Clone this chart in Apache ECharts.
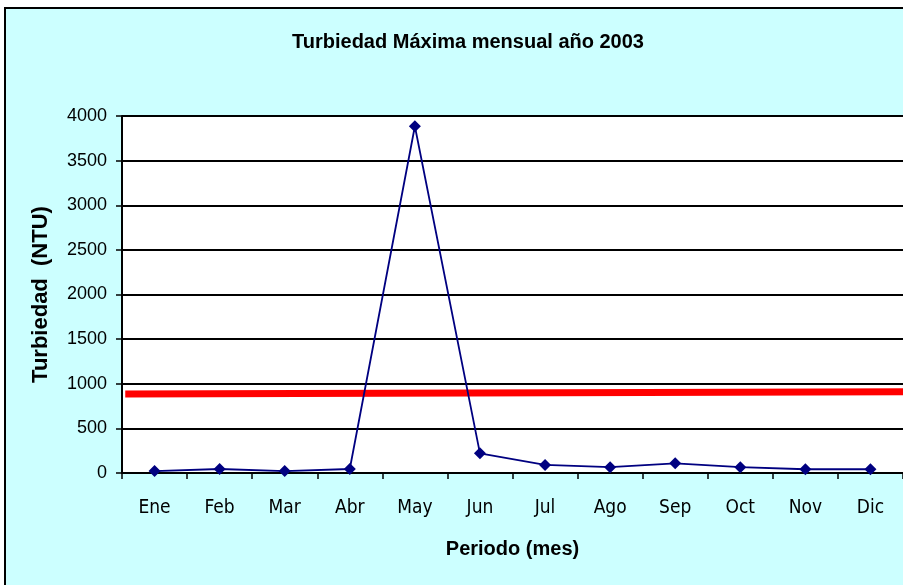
<!DOCTYPE html>
<html><head><meta charset="utf-8">
<script src="https://cdn.jsdelivr.net/npm/echarts@6/dist/echarts.min.js"></script>
<style>html,body{margin:0;padding:0;background:#fff}#c{width:903px;height:585px}</style>
</head><body><div id="c"></div>
<script>
const months = ['Ene','Feb','Mar','Abr','May','Jun','Jul','Ago','Sep','Oct','Nov','Dic'];
const turbidity = [22, 45, 22, 45, 3885, 220, 90, 65, 108, 65, 42, 42];
const limitX = [0.05, 12];
const limitY = [885, 910];
const yTicks = {min: 0, max: 4000, interval: 500};
const titleText = 'Turbiedad Máxima mensual año 2003';
const xName = 'Periodo (mes)';
const yName = 'Turbiedad  (NTU)';

const FN = "'Liberation Sans', Arial, sans-serif";
const FC = "'DejaVu Sans Condensed', 'Liberation Sans', sans-serif";
const chart = echarts.init(document.getElementById('c'), null, {renderer: 'canvas'});
chart.setOption({
  backgroundColor: '#ffffff',
  animation: false,
  graphic: [{
    type: 'rect', z: -10, silent: true,
    shape: {x: 5, y: 8, width: 920, height: 600},
    style: {fill: '#CCFFFF', stroke: '#000', lineWidth: 2}
  }],
  title: {
    text: titleText, left: 463, top: 27, textAlign: 'center',
    textStyle: {fontFamily: FN, fontWeight: 'bold', fontSize: 20, color: '#000'}
  },
  grid: {left: 122, top: 116, width: 784, height: 357, backgroundColor: '#fff', show: true, borderWidth: 0},
  xAxis: [{
    type: 'category', data: months, boundaryGap: true,
    name: xName, nameLocation: 'middle', nameGap: 66,
    nameTextStyle: {fontFamily: FN, fontWeight: 'bold', fontSize: 20, color: '#000'},
    axisLine: {lineStyle: {color: '#000', width: 2}},
    axisTick: {show: true, length: 6, lineStyle: {color: '#000', width: 1.5}},
    axisLabel: {fontFamily: FC, fontSize: 19, color: '#000', margin: 26}
  }, {
    type: 'value', min: 0, max: 12, show: false
  }],
  yAxis: {
    type: 'value', min: yTicks.min, max: yTicks.max, interval: yTicks.interval,
    name: yName, nameLocation: 'middle', nameGap: 70, nameRotate: 90,
    nameTextStyle: {fontFamily: FN, fontWeight: 'bold', fontSize: 22, color: '#000'},
    axisLine: {show: true, lineStyle: {color: '#000', width: 2}},
    axisTick: {show: true, length: 6, lineStyle: {color: '#000', width: 1.5}},
    axisLabel: {fontFamily: FN, fontSize: 18, color: '#000', margin: 15, formatter: v => String(v)},
    splitLine: {show: true, lineStyle: {color: '#000', width: 2}}
  },
  series: [{
    type: 'line', data: turbidity, xAxisIndex: 0,
    symbol: 'diamond', symbolSize: 12,
    itemStyle: {color: '#000080'},
    lineStyle: {color: '#000080', width: 1.8},
    z: 5
  }, {
    type: 'line', xAxisIndex: 1, data: limitX.map((x, i) => [x, limitY[i]]),
    symbol: 'none', lineStyle: {color: '#FF0000', width: 7}, z: 4
  }]
});
</script></body></html>
